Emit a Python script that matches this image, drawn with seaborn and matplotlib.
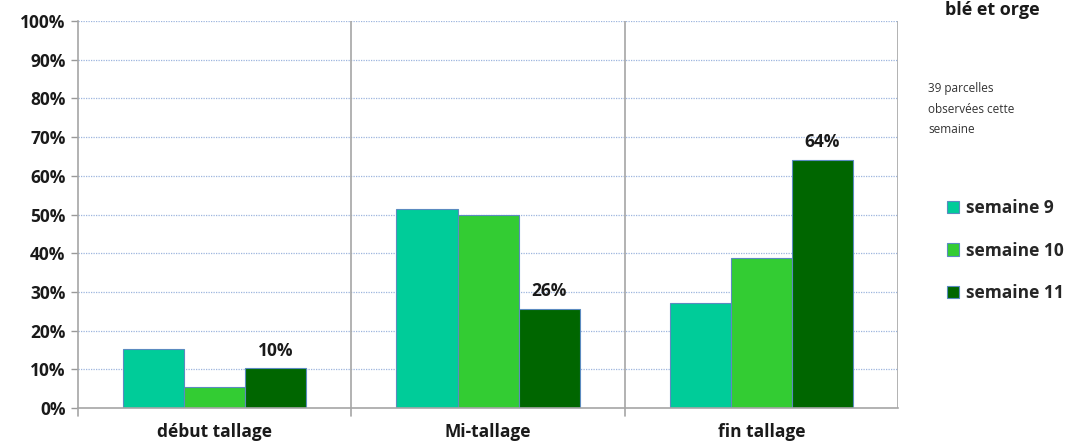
import pandas as pd
import numpy as np
import seaborn as sns
import matplotlib
matplotlib.use('Agg')
import matplotlib.pyplot as plt
from matplotlib.patches import Patch

# data
stades = ['début tallage', 'Mi-tallage', 'fin tallage']
semaines = ['semaine 9', 'semaine 10', 'semaine 11']
semaine_9 = [15.2, 51.5, 27.2]
semaine_10 = [5.4, 50.0, 38.8]
semaine_11 = [10.3, 25.6, 64.1]
labels_s11 = ['10%', '26%', '64%']
couleurs = ['#00CC99', '#33CC33', '#006600']
y_ticks = list(range(0, 101, 10))

rows = []
for sem, vals in zip(semaines, [semaine_9, semaine_10, semaine_11]):
    for st, v in zip(stades, vals):
        rows.append({'stade': st, 'semaine': sem, 'valeur': v})
df = pd.DataFrame(rows)

sns.set_style('white')
plt.rcParams['font.family'] = ['Open Sans', 'DejaVu Sans']

fig = plt.figure(figsize=(10.73, 4.45), dpi=100)
ax = fig.add_axes([0.0727, 0.0831, 0.7643, 0.8697])

sns.barplot(data=df, x='stade', y='valeur', hue='semaine', order=stades,
            hue_order=semaines, palette=couleurs, saturation=1, width=0.67,
            edgecolor='#5B8BC0', linewidth=0.8, ax=ax, legend=False)

ax.set_ylim(0, 100)
ax.set_xlim(-0.5, 2.5)
ax.set_yticks(y_ticks)
ax.set_yticklabels([f'{t}%' for t in y_ticks], fontsize=12.5, fontweight='bold', color='#1a1a1a')
ax.set_xticks(range(len(stades)))
ax.set_xticklabels(stades, fontsize=12.5, fontweight='bold', color='#1a1a1a')
ax.tick_params(axis='x', length=0, pad=11)
ax.tick_params(axis='y', length=5, width=1, color='#999999', direction='out', left=True, pad=4)
ax.set_xlabel('')
ax.set_ylabel('')

# dotted horizontal gridlines
for t in y_ticks[1:]:
    ax.axhline(t, color='#9DB5DE', linestyle=(0, (1, 1)), linewidth=0.9, zorder=0)

# category separators
for xs in [0.5, 1.5]:
    ax.axvline(xs, color='#A6A6A6', linewidth=1.2, zorder=0)
    ax.plot([xs, xs], [0, -2], color='#A6A6A6', linewidth=1.2, clip_on=False)
ax.plot([-0.5, -0.5], [0, -2], color='#A6A6A6', linewidth=1.2, clip_on=False)

for side in ['top', 'right']:
    ax.spines[side].set_visible(False)
ax.spines['left'].set_color('#A6A6A6')
ax.spines['left'].set_linewidth(1.2)
ax.spines['bottom'].set_color('#A6A6A6')
ax.spines['bottom'].set_linewidth(1.2)
ax.axvline(2.5, color='#A6A6A6', linewidth=1.2, zorder=0)

# value labels on semaine 11
s11_bars = ax.containers[2]
for bar, lab in zip(s11_bars, labels_s11):
    ax.text(bar.get_x() + bar.get_width() / 2, bar.get_height() + 2.2, lab,
            ha='center', va='bottom', fontsize=12.5, fontweight='bold', color='#1a1a1a')

fig.text(0.925, 0.998, 'blé et orge', ha='center', va='top', fontsize=13,
         fontweight='bold', color='#1a1a1a')
fig.text(0.865, 0.815, '39 parcelles\nobservées cette\nsemaine', ha='left', va='top',
         fontsize=8.5, color='#333333', linespacing=1.75)

handles = [Patch(facecolor=c, edgecolor='#5B8BC0', linewidth=0.8) for c in couleurs]
fig.legend(handles, semaines, loc='upper left', bbox_to_anchor=(0.868, 0.588),
           frameon=False, handlelength=0.7, handleheight=0.7, handletextpad=0.4,
           labelspacing=1.42, prop={'weight': 'bold', 'size': 12.5})

fig.savefig('out.png', dpi=100)
